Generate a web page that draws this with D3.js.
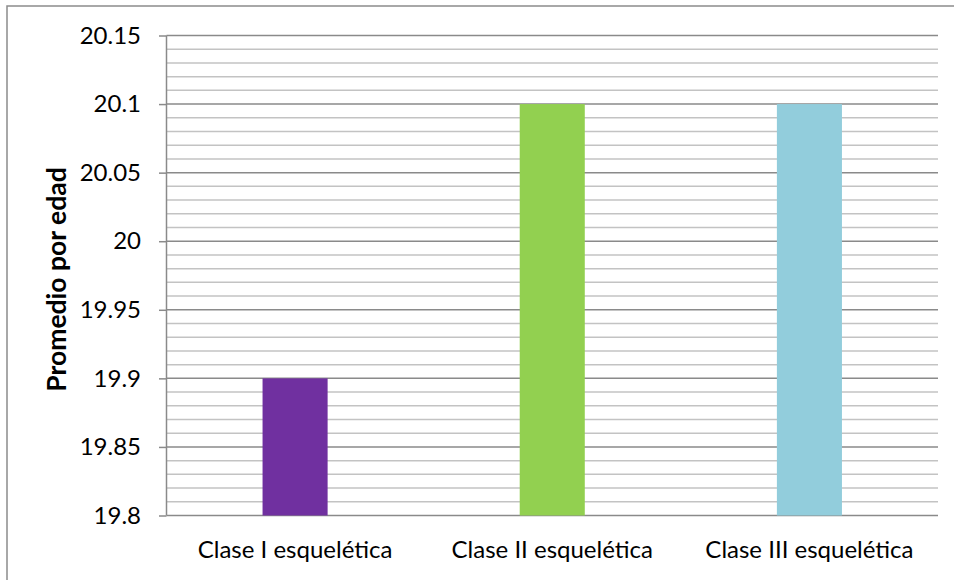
<!DOCTYPE html>
<html>
<head>
<meta charset="utf-8">
<script src="https://cdn.jsdelivr.net/npm/d3@7"></script>
<style>
  html, body { margin: 0; padding: 0; background: #fff; }
  svg { display: block; font-family: Lato, "Open Sans", sans-serif; }
</style>
</head>
<body>
<svg id="chart" width="954" height="580"></svg>
<script>
// Average age per skeletal class
const categories = ["Clase I esquelética", "Clase II esquelética", "Clase III esquelética"];
const values = [19.9, 20.1, 20.1];
const barColors = ["#7030A0", "#92D050", "#92CDDC"];
const yTicks = [19.8, 19.85, 19.9, 19.95, 20, 20.05, 20.1, 20.15];
const yMinorTicks = d3.range(0, 36).map(i => +(19.8 + i * 0.01).toFixed(2));
const yTitle = "Promedio por edad";

const svg = d3.select("#chart");
const W = 954, H = 580;
const margin = { left: 166.5, right: 16, top: 35.5, bottom: 64.5 };
const plotW = W - margin.left - margin.right;
const plotH = H - margin.top - margin.bottom;

// chart frame
svg.append("rect")
  .attr("x", 7).attr("y", 6)
  .attr("width", W + 10).attr("height", H + 10)
  .attr("fill", "#fff").attr("stroke", "#8c8c8c").attr("stroke-width", 1.5);

const g = svg.append("g").attr("transform", `translate(${margin.left},${margin.top})`);

const x = d3.scaleBand().domain(categories).range([0, plotW]).padding(0);
const y = d3.scaleLinear().domain([19.8, 20.15]).range([plotH, 0]);
const barW = x.bandwidth() * 0.253;

// minor gridlines
g.append("g").selectAll("line")
  .data(yMinorTicks.filter(v => !yTicks.some(t => Math.abs(t - v) < 1e-9)))
  .join("line")
  .attr("x1", 0).attr("x2", plotW)
  .attr("y1", d => y(d)).attr("y2", d => y(d))
  .attr("stroke", "#c3c3c3").attr("stroke-width", 1.5);

// major gridlines
g.append("g").selectAll("line")
  .data(yTicks)
  .join("line")
  .attr("x1", 0).attr("x2", plotW)
  .attr("y1", d => y(d)).attr("y2", d => y(d))
  .attr("stroke", "#8a8a8a").attr("stroke-width", 1.5);

// bars
g.append("g").selectAll("rect")
  .data(values)
  .join("rect")
  .attr("x", (d, i) => x(categories[i]) + (x.bandwidth() - barW) / 2)
  .attr("width", barW)
  .attr("y", d => y(d))
  .attr("height", d => y(19.8) - y(d))
  .attr("fill", (d, i) => barColors[i]);

// y axis
const yAxis = g.append("g")
  .call(d3.axisLeft(y).tickValues(yTicks).tickSize(7.5).tickPadding(18)
    .tickFormat(d => String(+d.toFixed(2))));
yAxis.select(".domain").attr("stroke", "#8a8a8a").attr("stroke-width", 1.5).attr("d", `M0,${plotH}V0`);
yAxis.selectAll(".tick line").attr("stroke", "#8a8a8a").attr("stroke-width", 1.5);
yAxis.selectAll(".tick text")
  .attr("fill", "#000").attr("font-size", 24).attr("font-family", "Lato, sans-serif");

// x axis labels
const xAxis = g.append("g").attr("transform", `translate(0,${plotH})`)
  .call(d3.axisBottom(x).tickSize(0).tickPadding(25));
xAxis.select(".domain").remove();
xAxis.selectAll(".tick text")
  .attr("fill", "#000").attr("font-size", 24).attr("font-family", "Lato, sans-serif");

// y title
svg.append("text")
  .attr("transform", `translate(66,${margin.top + plotH / 2 + 4}) rotate(-90)`)
  .attr("text-anchor", "middle")
  .attr("font-size", 26.5).attr("font-weight", "bold")
  .attr("fill", "#000")
  .text(yTitle);
</script>
</body>
</html>
